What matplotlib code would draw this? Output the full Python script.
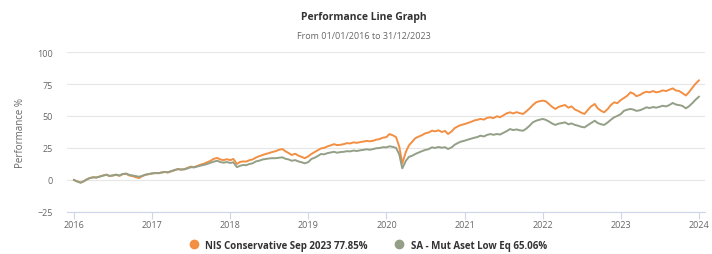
import matplotlib
matplotlib.use("Agg")
import matplotlib.pyplot as plt
import pandas as pd

plt.rcParams['font.family'] = ['Open Sans', 'DejaVu Sans']

title = "Performance Line Graph"
subtitle = "From 01/01/2016 to 31/12/2023"
ylabel = "Performance %"
series_names = ["NIS Conservative Sep 2023 77.85%", "SA - Mut Aset Low Eq 65.06%"]
colors = ["#f28f43", "#939f86"]

# semi-monthly observations (1st and 15th of each month) from 2016-01-01, plus 2024-01-01
nis = [
    # 2016
    0.0, -1.0, -2.0, -1.2, 0.5, 1.5, 2.2, 1.8, 2.8, 3.5, 4.2, 3.0,
    3.6, 4.0, 3.2, 4.5, 4.8, 3.5, 3.0, 2.2, 1.5, 3.0, 4.0, 4.5,
    # 2017
    5.0, 5.5, 5.2, 6.0, 6.3, 5.8, 6.8, 7.5, 8.6, 8.0, 8.5, 9.5,
    10.4, 10.0, 11.0, 12.0, 12.8, 13.8, 15.0, 16.5, 17.2, 16.0, 15.5, 16.2,
    # 2018
    15.5, 16.4, 12.5, 14.0, 14.5, 14.3, 15.5, 16.0, 17.5, 18.5, 19.5, 20.3,
    21.0, 21.8, 22.5, 23.5, 24.2, 22.5, 21.0, 19.5, 20.5, 19.0, 18.0, 17.0,
    # 2019
    18.5, 20.3, 22.0, 23.5, 24.7, 25.0, 26.3, 27.0, 28.0, 27.2, 27.5, 28.0,
    28.8, 28.5, 29.4, 29.0, 29.6, 30.0, 30.5, 30.2, 30.7, 31.5, 32.0, 33.0,
    # 2020
    33.5, 35.9, 34.8, 33.5, 26.0, 13.0, 22.0, 27.0, 30.0, 32.6, 34.0, 35.0,
    36.5, 37.0, 38.5, 38.0, 38.8, 37.5, 38.3, 35.9, 38.0, 40.5, 42.0, 43.0,
    # 2021
    43.7, 44.5, 45.5, 46.5, 47.0, 47.7, 47.2, 48.5, 49.0, 48.3, 49.8, 49.0,
    50.5, 52.0, 52.9, 52.0, 53.0, 52.2, 51.6, 53.5, 56.0, 58.5, 60.7, 61.5,
    # 2022
    62.0, 61.5, 59.0, 57.0, 55.5, 57.0, 58.0, 58.6, 56.5, 57.5, 55.0, 54.0,
    52.5, 51.6, 55.0, 57.5, 59.4, 56.0, 54.0, 52.9, 55.5, 58.5, 60.7, 60.0,
    # 2023
    62.5, 64.0, 66.0, 68.5, 67.5, 65.5, 66.5, 68.0, 69.0, 68.5, 69.5, 68.5,
    69.0, 70.0, 69.5, 70.5, 71.6, 70.0, 69.5, 68.0, 66.0, 68.5, 72.0, 75.0,
    # 2024-01-01
    77.85,
]

sa = [
    # 2016
    0.0, -1.2, -2.2, -1.0, 0.3, 1.5, 2.0, 2.0, 2.6, 3.3, 4.0, 3.2,
    3.4, 4.2, 3.5, 4.6, 5.0, 4.0, 3.5, 3.0, 2.5, 3.2, 4.2, 4.6,
    # 2017
    5.2, 5.3, 5.4, 5.8, 6.2, 6.0, 7.0, 7.8, 8.4, 8.2, 8.3, 9.0,
    10.0, 9.8, 10.6, 11.2, 11.8, 12.5, 13.5, 14.3, 15.0, 14.0, 13.5, 14.0,
    # 2018
    13.3, 13.8, 10.0, 11.0, 11.7, 11.5, 12.5, 13.0, 14.5, 15.0, 16.0, 16.4,
    16.8, 17.0, 17.0, 17.3, 17.7, 16.6, 16.0, 15.0, 15.5, 14.5, 13.8, 13.0,
    # 2019
    14.0, 16.4, 17.5, 18.8, 20.3, 20.0, 21.0, 21.5, 22.0, 21.3, 21.8, 22.0,
    22.5, 22.3, 23.0, 22.6, 23.2, 23.5, 24.0, 23.6, 24.2, 24.8, 25.0, 25.6,
    # 2020
    25.5, 26.3, 25.8, 25.0, 20.0, 9.1, 15.0, 18.0, 19.0, 20.3, 21.5, 22.5,
    23.5, 24.0, 25.5, 25.0, 25.8, 25.2, 25.6, 24.2, 25.5, 27.5, 29.0, 30.0,
    # 2021
    30.7, 31.5, 32.3, 33.0, 33.5, 34.6, 34.0, 35.2, 35.9, 35.3, 35.9, 35.5,
    36.8, 38.0, 39.8, 39.0, 39.5, 38.8, 38.5, 40.0, 42.5, 45.0, 46.3, 47.0,
    # 2022
    47.7, 47.0, 45.5, 44.0, 43.0, 44.0, 44.5, 45.0, 43.5, 44.2, 43.0, 42.4,
    41.5, 41.1, 43.0, 44.5, 46.3, 44.5, 43.5, 43.0, 45.0, 47.0, 49.0, 50.0,
    # 2023
    51.5, 54.0, 55.0, 55.5, 55.0, 54.0, 54.5, 55.5, 56.8, 56.2, 57.0, 56.5,
    57.2, 58.0, 57.5, 58.5, 60.2, 59.0, 58.5, 58.0, 56.0, 57.5, 60.0, 62.5,
    # 2024-01-01
    65.06,
]

dates = list(pd.date_range("2016-01-01", periods=192, freq="SMS")) + [pd.Timestamp("2024-01-01")]

yticks = [-25, 0, 25, 50, 75, 100]
xtick_labels = ["2016", "2017", "2018", "2019", "2020", "2021", "2022", "2023", "2024"]

fig = plt.figure(figsize=(7.12, 2.55), dpi=100)
ax = fig.add_axes([0.094, 0.165, 0.896, 0.627])

for vals, c, name in zip([nis, sa], colors, series_names):
    ax.plot(dates, vals, color=c, lw=1.4, label=name, solid_joinstyle="round")

ax.set_ylim(-25, 100)
ax.set_yticks(yticks)
ax.set_xlim(pd.Timestamp("2015-11-29"), pd.Timestamp("2024-01-29"))
xt = [pd.Timestamp(f"{y}-01-01") for y in xtick_labels]
ax.set_xticks(xt)
ax.set_xticklabels(xtick_labels)

ax.grid(axis="y", color="#e6e6e6", lw=0.8)
ax.set_axisbelow(True)
for s in ["top", "right", "left"]:
    ax.spines[s].set_visible(False)
ax.spines["bottom"].set_color("#ccd6eb")
ax.spines["bottom"].set_linewidth(0.8)
ax.tick_params(axis="y", length=0, labelsize=6.5, labelcolor="#666666", pad=10)
ax.tick_params(axis="x", length=5, color="#ccd6eb", labelsize=6.5, labelcolor="#666666", pad=1)

ax.set_ylabel(ylabel, fontsize=7, color="#666666", labelpad=8)

fig.text(0.511, 0.933, title, ha="center", va="center", fontsize=7.5, fontweight="bold", color="#333333")
fig.text(0.511, 0.855, subtitle, ha="center", va="center", fontsize=6.5, color="#666666")

leg = fig.legend(handles=[plt.Line2D([], [], ls="", marker="o", ms=6, color=c) for c in colors],
                 labels=series_names, loc="center", bbox_to_anchor=(0.513, 0.035), ncol=2,
                 frameon=False, fontsize=7, handletextpad=0.2, columnspacing=2.2)
for t in leg.get_texts():
    t.set_fontweight("bold")
    t.set_color("#333333")

fig.savefig("out.png", dpi=100)
